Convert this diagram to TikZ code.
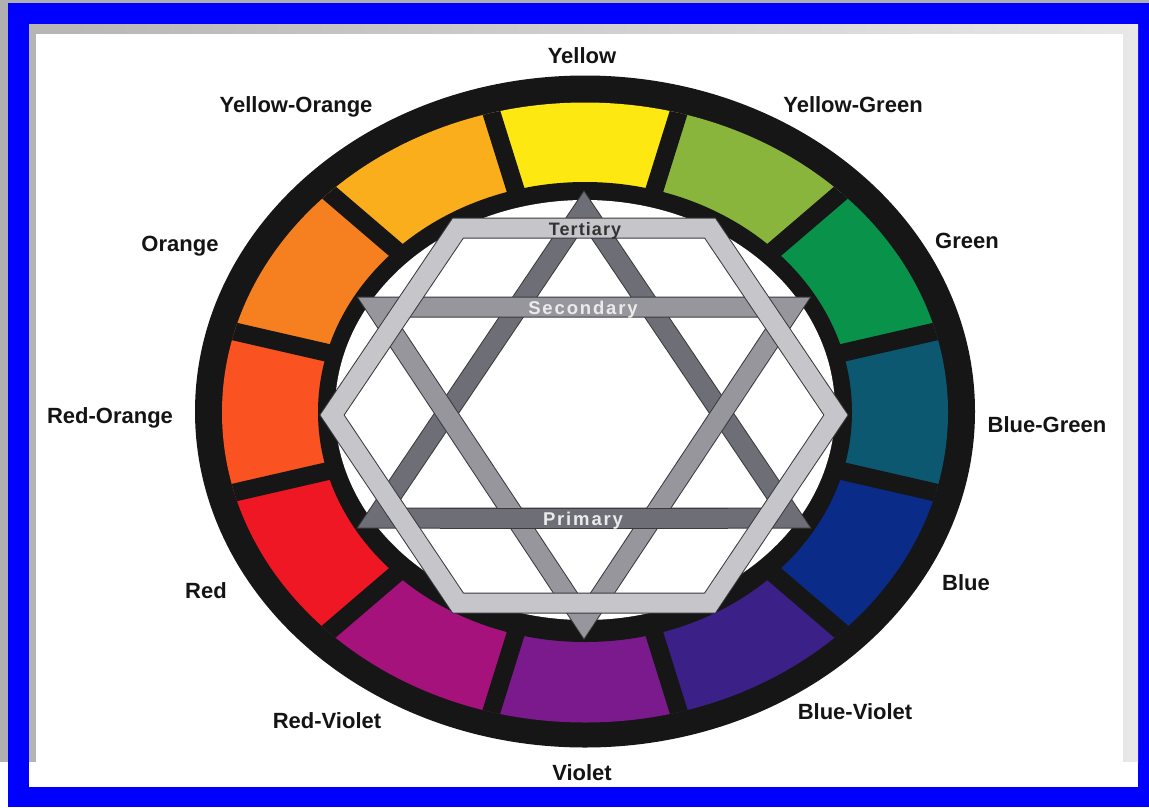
\documentclass[tikz,border=0pt]{standalone}
\usepackage{fontspec}
\setmainfont{Liberation Sans}
\newfontfamily\bandfont[LetterSpace=6]{Liberation Sans}
\newfontfamily\bandfontwide[LetterSpace=10]{Liberation Sans}
\definecolor{frameblue}{HTML}{0000FF}
\definecolor{ringblack}{HTML}{161616}
\definecolor{cY}{HTML}{FDE812}
\definecolor{cYG}{HTML}{8AB53C}
\definecolor{cG}{HTML}{09924A}
\definecolor{cBG}{HTML}{0B5870}
\definecolor{cB}{HTML}{0A2C88}
\definecolor{cBV}{HTML}{3B2087}
\definecolor{cV}{HTML}{7A1A8C}
\definecolor{cRV}{HTML}{A6127C}
\definecolor{cR}{HTML}{EE1723}
\definecolor{cRO}{HTML}{FA5221}
\definecolor{cO}{HTML}{F6801F}
\definecolor{cYO}{HTML}{FBAE1C}
\definecolor{hexgrey}{HTML}{C6C6CA}
\definecolor{upgrey}{HTML}{6E6E76}
\definecolor{downgrey}{HTML}{96969C}
\definecolor{edgegrey}{HTML}{3A3A3E}
\begin{document}
\begin{tikzpicture}[x=1pt,y=-1pt,
  lbl/.style={font=\fontsize{22}{26}\selectfont\bfseries, text=black!92, inner sep=0pt, anchor=base},
  bandlbl/.style={font=\bandfont\fontsize{18}{20}\selectfont\bfseries, inner sep=0pt, anchor=base},
  bandlblwide/.style={font=\bandfontwide\fontsize{18.5}{20}\selectfont\bfseries, inner sep=0pt, anchor=base},
  bandedge/.style={draw=edgegrey, line width=21pt, line join=miter},
  bandfill/.style={draw=#1, line width=19pt, line join=miter}]
\useasboundingbox (0,0) rectangle (1149,807);
% ---- frame ----
\fill[white] (0,0) rectangle (1149,807);
\fill[gray!62] (0,0) rectangle (1149,762);
\fill[white] (0,762) rectangle (8,807);
\fill[frameblue] (8,3) rectangle (1149,807);
\shade[left color=gray!58, right color=gray!18] (29,24) rectangle (1138,762);
\fill[white] (36,34) rectangle (1123,787);
\fill[white] (29,762) rectangle (1138,787);
% ---- colour ring ----
\fill[ringblack] (585,411.5) ellipse [x radius=390pt, y radius=336pt];
\begin{scope}
  \clip (585,412.5) ellipse [x radius=363pt, y radius=310pt];
  \foreach \c/\col in {90/cY,60/cYG,30/cG,0/cBG,-30/cB,-60/cBV,-90/cV,-120/cRV,-150/cR,180/cRO,150/cO,120/cYO}{
    \fill[\col] (585,412) -- ({585+700*cos(\c-15)},{412-600*sin(\c-15)})
      -- ({585+700*cos(\c)},{412-600*sin(\c)})
      -- ({585+700*cos(\c+15)},{412-600*sin(\c+15)}) -- cycle;
  }
  \foreach \a in {15,45,...,345}{
    \draw[ringblack, line width=18pt] (585,412) -- ({585+700*cos(\a)},{412-600*sin(\a)});
  }
\end{scope}
\fill[ringblack] (585,412) ellipse [x radius=267pt, y radius=230pt];
\fill[white] (585,410) ellipse [x radius=250pt, y radius=210pt];
% ---- star and hexagon ----
\coordinate (ua) at (584,209);
\coordinate (ul) at (376,518);
\coordinate (ur) at (792,518);
\coordinate (da) at (584,621);
\coordinate (dl) at (376,307);
\coordinate (dr) at (792,307);
\coordinate (h1) at (836,415);
\coordinate (h2) at (710,228);
\coordinate (h3) at (458,228);
\coordinate (h4) at (332,415);
\coordinate (h5) at (458,603);
\coordinate (h6) at (710,603);
\coordinate (pb1) at (440,518);
\coordinate (pb2) at (728,518);
% up triangle (dark)
\draw[bandedge] (ua) -- (ul) -- (ur) -- cycle;
\draw[bandfill=upgrey] (ua) -- (ul) -- (ur) -- cycle;
% down triangle (medium)
\draw[bandedge] (da) -- (dl) -- (dr) -- cycle;
\draw[bandfill=downgrey] (da) -- (dl) -- (dr) -- cycle;
% primary base woven over the down triangle
\draw[bandedge] (pb1) -- (pb2);
\draw[bandfill=upgrey] (pb1) -- (pb2);
% hexagon (light)
\draw[bandedge] (h1) -- (h2) -- (h3) -- (h4) -- (h5) -- (h6) -- cycle;
\draw[bandfill=hexgrey] (h1) -- (h2) -- (h3) -- (h4) -- (h5) -- (h6) -- cycle;
% band labels
\node[bandlbl, text=black!80] (tert) at (585,235) {Tertiary};
\node[bandlblwide, text=white!92!black] (sec) at (583,314) {Secondary};
\node[bandlblwide, text=white!92!black] (prim) at (583,525.5) {Primary};
% ---- colour names ----
\node[lbl] (lY) at (582,63) {Yellow};
\node[lbl] (lYO) at (296,112) {Yellow-Orange};
\node[lbl] (lYG) at (853,112) {Yellow-Green};
\node[lbl] (lO) at (180,251) {Orange};
\node[lbl] (lG) at (967,248) {Green};
\node[lbl] (lRO) at (110,423) {Red-Orange};
\node[lbl] (lBG) at (1047,432) {Blue-Green};
\node[lbl] (lR) at (206,598) {Red};
\node[lbl] (lB) at (966,590) {Blue};
\node[lbl] (lRV) at (327,728) {Red-Violet};
\node[lbl] (lBV) at (855,719) {Blue-Violet};
\node[lbl] (lV) at (582,780) {Violet};
\end{tikzpicture}
\end{document}
